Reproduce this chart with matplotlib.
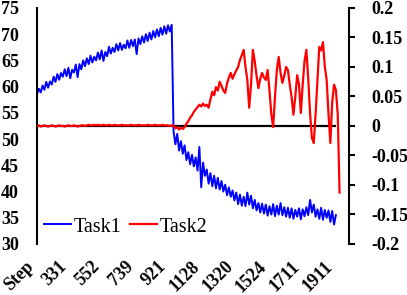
import matplotlib
matplotlib.use('Agg')
import matplotlib.pyplot as plt
from matplotlib.ticker import FuncFormatter
from matplotlib.transforms import ScaledTranslation

plt.rcParams['font.family'] = ['Liberation Serif', 'DejaVu Serif']
plt.rcParams['axes.unicode_minus'] = False

# tick labels on the category axis (one every 18 logged points)
step_labels = ['Step', '331', '552', '739', '921', '1128', '1320', '1524', '1711', '1911']
label_every = 18

# Task1 (left axis)
task1 = [
    58.6, 59.6, 58.9, 60.2, 59.4, 60.9, 59.8, 61.0, 60.4, 61.9,
    60.9, 62.4, 61.3, 62.6, 61.9, 63.3, 62.0, 63.6, 61.6, 63.2,
    62.7, 64.2, 61.8, 64.3, 63.3, 65.0, 63.9, 65.4, 64.3, 65.9,
    64.6, 65.7, 65.0, 66.5, 65.2, 66.9, 64.9, 66.6, 65.8, 67.6,
    66.3, 67.4, 66.6, 68.1, 66.9, 68.3, 67.0, 68.0, 67.3, 68.8,
    67.4, 68.9, 67.7, 69.0, 66.2, 69.2, 68.1, 69.6, 68.4, 70.0,
    68.7, 70.3, 69.0, 70.6, 69.4, 70.9, 69.6, 71.2, 69.9, 71.5,
    70.1, 71.7, 70.5, 71.8,
    51.5, 49.0, 51.0, 47.8, 49.6, 47.2, 48.8, 46.0, 47.5, 45.2,
    47.0, 44.8, 46.5, 44.0, 48.5, 40.8, 45.5, 43.0, 44.2, 41.5,
    43.5, 41.0, 43.0, 40.6, 42.6, 40.4, 42.0, 40.0, 41.3, 39.3,
    40.8, 39.0, 40.2, 38.3, 39.8, 37.6, 39.4, 37.3, 39.0, 37.2,
    39.8, 37.5, 39.2, 36.8, 38.4, 36.4, 37.8, 36.0, 37.7, 35.8,
    37.5, 35.4, 37.2, 35.6, 37.6, 35.3, 37.3, 35.6, 37.8, 35.5,
    37.0, 35.2, 36.9, 35.0, 36.8, 34.8, 36.5, 35.2, 36.8, 34.7,
    36.6, 35.3, 37.0, 35.5, 38.4, 36.0, 37.5, 35.2, 36.6, 34.8,
    36.9, 34.6, 36.5, 35.0, 36.4, 34.2, 36.3, 33.7, 35.5,
]

# Task2 (right axis)
task2 = [
    0.000, 0.001, -0.001, 0.000, 0.001, 0.000, -0.001, 0.000, 0.001, 0.000,
    -0.001, 0.000, 0.001, 0.000, 0.000, -0.001, 0.000, 0.001, 0.000, 0.000,
    0.001, 0.000, -0.001, 0.000, 0.001, 0.001, 0.000, 0.001, 0.002, 0.001,
    0.001, 0.002, 0.001, 0.002, 0.001, 0.001, 0.002, 0.001, 0.001, 0.002,
    0.001, 0.001, 0.002, 0.001, 0.001, 0.001, 0.002, 0.001, 0.001, 0.001,
    0.001, 0.002, 0.001, 0.001, 0.001, 0.002, 0.001, 0.001, 0.001, 0.001,
    0.002, 0.001, 0.001, 0.001, 0.002, 0.001, 0.001, 0.001, 0.002, 0.001,
    0.001, 0.001, 0.000, 0.001,
    0.001, -0.004, -0.002, -0.006, -0.003, -0.005, -0.002, 0.004, 0.008, 0.014,
    0.018, 0.024, 0.028, 0.032, 0.036, 0.033, 0.038, 0.034, 0.036, 0.031,
    0.045, 0.058, 0.052, 0.066, 0.060, 0.075, 0.068, 0.060, 0.056, 0.072,
    0.082, 0.090, 0.080, 0.088, 0.094, 0.100, 0.112, 0.120, 0.129, 0.100,
    0.078, 0.031, 0.070, 0.129, 0.110, 0.085, 0.064, 0.080, 0.090, 0.082,
    0.078, 0.095, 0.060, 0.020, -0.002, 0.050, 0.095, 0.117, 0.090, 0.073,
    0.085, 0.100, 0.095, 0.070, 0.049, 0.019, 0.050, 0.086, 0.070, 0.022,
    0.070, 0.110, 0.129, 0.080, 0.022, -0.020, -0.029, 0.020, 0.078, 0.134,
    0.128, 0.142, 0.100, 0.078, 0.020, -0.029, 0.040, 0.070, 0.061, 0.020,
    -0.113,
]

fig = plt.figure(figsize=(4.07, 2.95), dpi=100)
ax = fig.add_axes([0.091, 0.173, 0.766, 0.800])
ax2 = ax.twinx()

l1, = ax.plot(range(len(task1)), task1, color='#0000FF', lw=1.4, label='Task1')
ax2.hlines(0, 0, len(task1) - 1, color='black', lw=1.6)
l2, = ax2.plot(range(len(task2)), task2, color='#FF0000', lw=1.6, label='Task2')

ax.set_xlim(0, 169)
ax.set_ylim(30, 75)
ax2.set_ylim(-0.2, 0.2)
ax.set_yticks(range(30, 80, 5))
ax2.set_yticks([-0.2, -0.15, -0.1, -0.05, 0, 0.05, 0.1, 0.15, 0.2])
ax2.yaxis.set_major_formatter(FuncFormatter(lambda v, p: f'{v:g}'))

ax.set_xticks(range(0, len(step_labels) * label_every, label_every))
ax.set_xticklabels(step_labels, rotation=45, ha='right',
                   fontsize=13, fontweight='bold')
shift = ScaledTranslation(0.03, 0, fig.dpi_scale_trans)
for lab in ax.get_xticklabels():
    lab.set_transform(lab.get_transform() + shift)
ax.tick_params(axis='x', length=0, pad=10)
ax.tick_params(axis='y', length=0, pad=13, labelsize=13)
ax2.tick_params(axis='y', length=4, width=1.5, direction='out', pad=12, labelsize=13)
for lab in ax.get_yticklabels() + ax2.get_yticklabels():
    lab.set_fontweight('bold')

for a in (ax, ax2):
    a.spines['top'].set_visible(False)
    a.spines['bottom'].set_visible(False)
ax2.spines['left'].set_visible(False)
ax.spines['right'].set_visible(False)
ax.spines['left'].set_linewidth(1.5)
ax2.spines['right'].set_linewidth(1.5)

ax2.legend(handles=[l1, l2], loc='center left', bbox_to_anchor=(0.022, 0.072),
           ncol=2, frameon=False, fontsize=14.5, handlelength=1.35,
           handletextpad=0.15, columnspacing=0.4, borderpad=0, borderaxespad=0)

fig.savefig('out.png', dpi=100)
